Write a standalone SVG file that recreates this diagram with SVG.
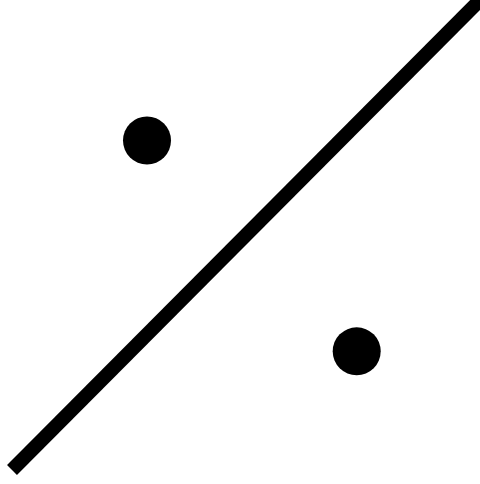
<svg xmlns="http://www.w3.org/2000/svg" width="480" height="484" viewBox="0 0 480 484">
<rect width="480" height="484" fill="#ffffff"/>
<line x1="12" y1="470" x2="490" y2="-10" stroke="#000" stroke-width="14" stroke-linecap="butt"/>
<circle cx="147" cy="140.5" r="24" fill="#000"/>
<circle cx="356.7" cy="351.3" r="24" fill="#000"/>
</svg>
